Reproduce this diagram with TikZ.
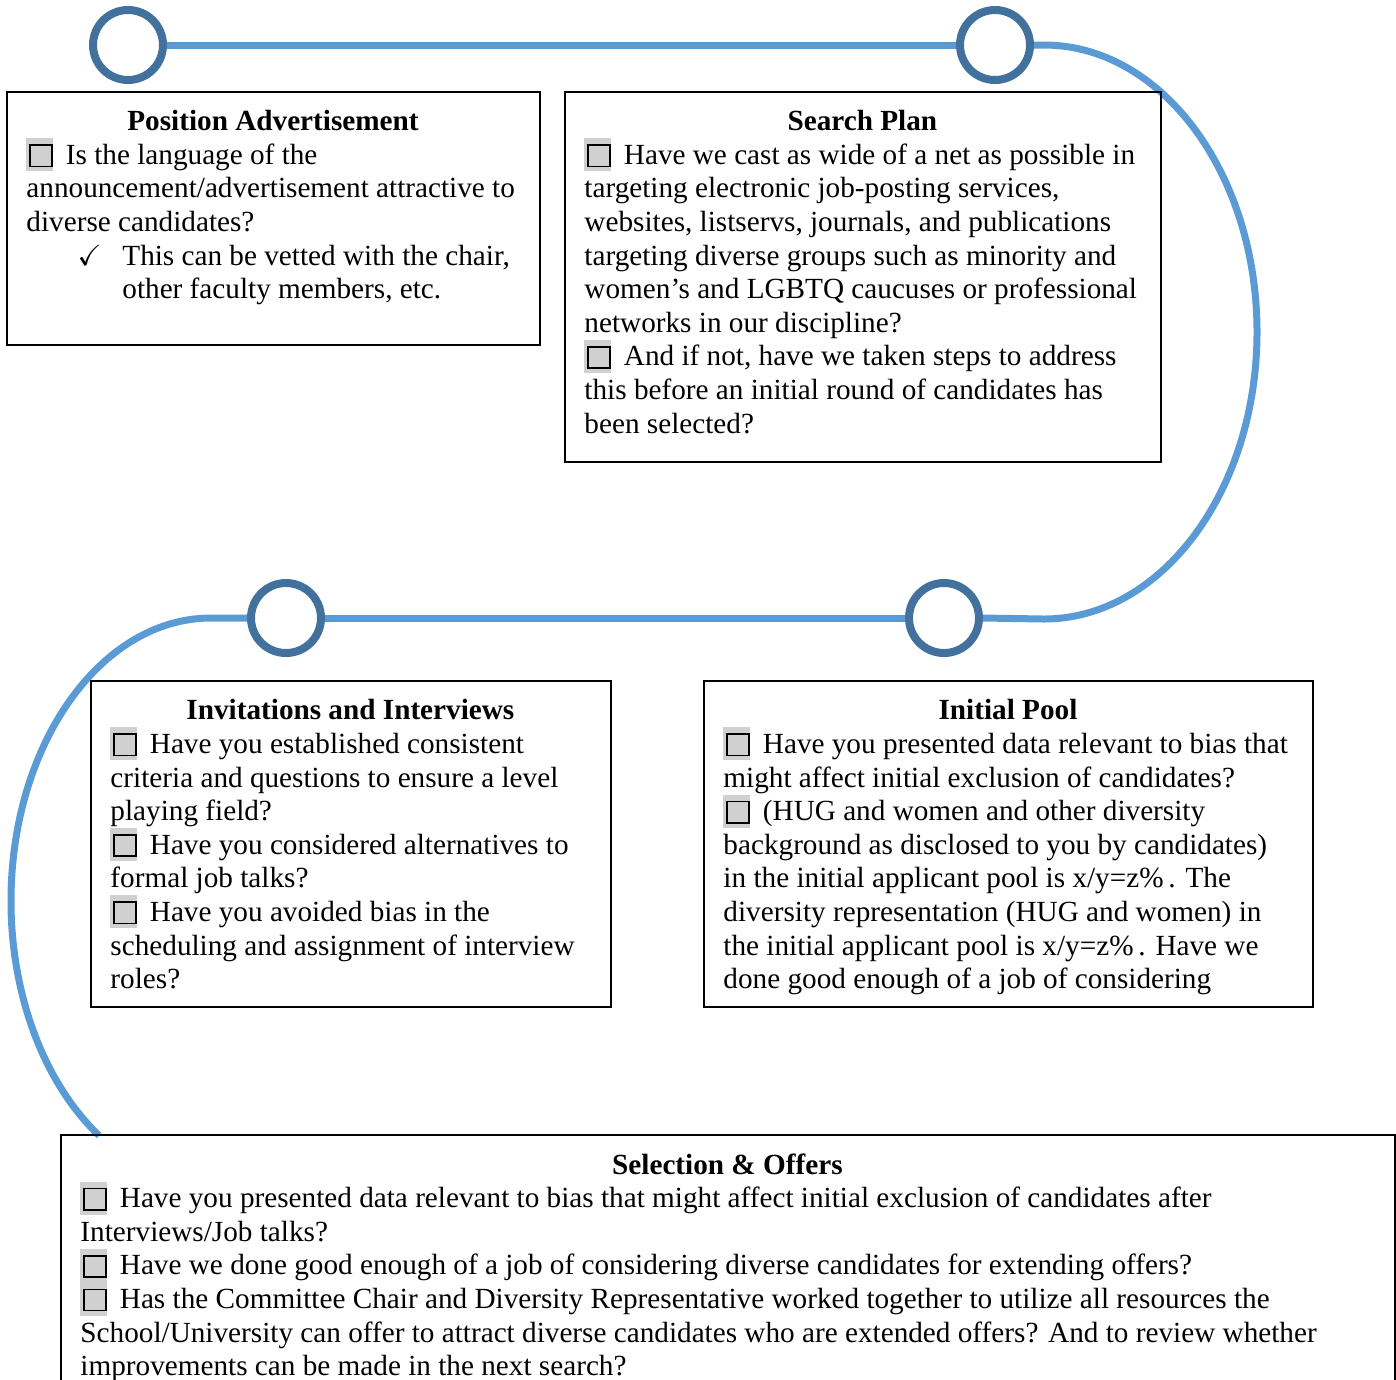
\documentclass[tikz,border=0pt]{standalone}
\usepackage{fontspec}
\setmainfont{Liberation Serif}
\usepackage{amssymb}
\usepackage{xcolor}
\usepackage{tikz}
\usetikzlibrary{positioning,fit}

\definecolor{trackblue}{HTML}{5B9BD5}
\definecolor{ringblue}{HTML}{41719C}
\definecolor{boxgray}{HTML}{D0D0D0}

\newcommand{\px}{0.4107pt}
% grey check box as printed in front of each question
\newcommand{\cbx}{\makebox[10.7pt][l]{\rlap{\smash{\color{boxgray}\rule[-2.9pt]{10.7pt}{13.6pt}}}%
  \hspace{1.0pt}{\setlength{\fboxsep}{0pt}\setlength{\fboxrule}{0.7pt}%
  \fcolorbox{black}{boxgray}{\rule[-0.5pt]{0pt}{8pt}\rule{8.5pt}{0pt}}}}\hspace{5.5pt}}
\newcommand{\heading}[2]{\makebox[#1][c]{\bfseries #2}}

\tikzset{
  ring/.style={circle, draw=ringblue, line width=8*\px, fill=white, minimum size=70*\px, inner sep=0pt},
  track/.style={draw=trackblue, line width=7*\px},
  panel/.style={draw, line width=0.8pt, inner sep=0pt},
  body/.style={align=left, inner sep=0pt, font=\fontsize{12}{13.8}\selectfont},
}

\begin{document}
\begin{tikzpicture}[x=\px, y=-\px]
  \useasboundingbox (0,0) rectangle (1396,1379);

  % stations on the track
  \node[ring] (adring)        at (128,45)  {};
  \node[ring] (planring)      at (995,45)  {};
  \node[ring] (poolring)      at (944,618) {};
  \node[ring] (interviewring) at (286,618) {};

  \draw[track] (adring) -- (planring);
  \draw[track] (planring.east) -- ++(10,0)
    arc[start angle=-90, end angle=90, x radius=213, y radius=287] -- (poolring.east);
  \draw[track] (poolring) -- (interviewring);
  \draw[track] (interviewring.west) -- ++(-36,0)
    arc[start angle=270, end angle=124, x radius=200, y radius=283];

  % panels
  \node[panel, fit={(7,92) (540,345)}] (adpanel) {};
  \node[panel, fit={(565,92) (1161,462)}] (planpanel) {};
  \node[panel, fit={(91,681) (611,1007)}] (interviewpanel) {};
  \node[panel, fit={(704,681) (1313,1007)}] (poolpanel) {};
  \node[panel, fit={(61,1135) (1395,1420)}] (offerpanel) {};

  \node[body, below right=7.8pt and 8.2pt of adpanel.north west] (adtext) {%
    \heading{202.5pt}{Position Advertisement}\\
    \cbx Is the language of the\\
    announcement/advertisement attractive to\\
    diverse candidates?\\
    \makebox[39.4pt][l]{\hspace*{21pt}$\checkmark$}This can be vetted with the chair,\\
    \hspace*{39.4pt}other faculty members, etc.};

  \node[body, below right=7.8pt and 8.2pt of planpanel.north west] (plantext) {%
    \heading{228.3pt}{Search Plan}\\
    \cbx Have we cast as wide of a net as possible in\\
    targeting electronic job-posting services,\\
    websites, listservs, journals, and publications\\
    targeting diverse groups such as minority and\\
    women’s and LGBTQ caucuses or professional\\
    networks in our discipline?\\
    \cbx And if not, have we taken steps to address\\
    this before an initial round of candidates has\\
    been selected?};

  \node[body, below right=7.8pt and 8.2pt of interviewpanel.north west] (interviewtext) {%
    \heading{197.1pt}{Invitations and Interviews}\\
    \cbx Have you established consistent\\
    criteria and questions to ensure a level\\
    playing field?\\
    \cbx Have you considered alternatives to\\
    formal job talks?\\
    \cbx Have you avoided bias in the\\
    scheduling and assignment of interview\\
    roles?};

  \node[body, below right=7.8pt and 8.2pt of poolpanel.north west] (pooltext) {%
    \heading{233.7pt}{Initial Pool}\\
    \cbx Have you presented data relevant to bias that\\
    might affect initial exclusion of candidates?\\
    \cbx (HUG and women and other diversity\\
    background as disclosed to you by candidates)\\
    in the initial applicant pool is x/y=z\%\,. The\\
    diversity representation (HUG and women) in\\
    the initial applicant pool is x/y=z\%\,. Have we\\
    done good enough of a job of considering};

  \node[body, below right=7.8pt and 8.2pt of offerpanel.north west] (offertext) {%
    \heading{531.4pt}{Selection \& Offers}\\
    \cbx Have you presented data relevant to bias that might affect initial exclusion of candidates after\\
    Interviews/Job talks?\\
    \cbx Have we done good enough of a job of considering diverse candidates for extending offers?\\
    \cbx Has the Committee Chair and Diversity Representative worked together to utilize all resources the\\
    School/University can offer to attract diverse candidates who are extended offers? And to review whether\\
    improvements can be made in the next search?};
\end{tikzpicture}
\end{document}
